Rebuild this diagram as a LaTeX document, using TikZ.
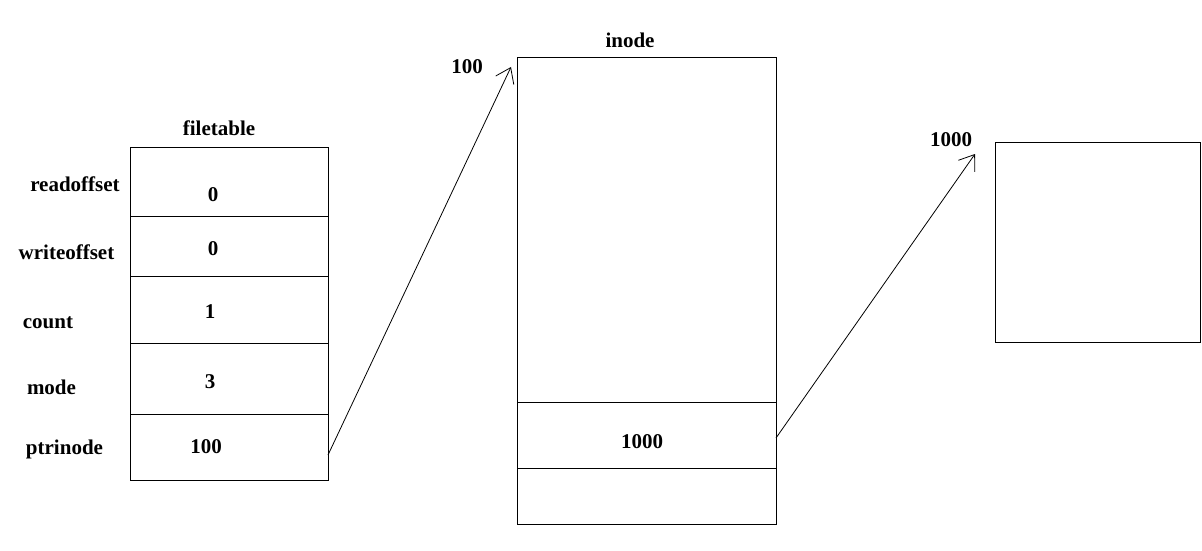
\documentclass[tikz,border=0pt]{standalone}
\usepackage{fontspec}
\setmainfont{Liberation Serif}
\usetikzlibrary{arrows.meta}
\begin{document}
\begin{tikzpicture}[x=1pt,y=-1pt,
  cell/.style={draw,line width=1.2pt,rectangle,inner sep=0pt,anchor=north west,minimum width=#1},
  txt/.style={font=\fontsize{21}{25}\selectfont\bfseries,inner sep=0pt},
  ptr/.style={line width=0.8pt,-{Straight Barb[length=14pt,width=20pt,line width=0.8pt]}}]
\useasboundingbox (0,0) rectangle (1202,551);
% filetable
\node[cell=198,minimum height=69] (f1) at (130,147) {};
\node[cell=198,minimum height=60] (f2) at (130,216) {};
\node[cell=198,minimum height=67] (f3) at (130,276) {};
\node[cell=198,minimum height=71] (f4) at (130,343) {};
\node[cell=198,minimum height=66] (f5) at (130,414) {};
\node[txt] (ft) at (219,128) {filetable};
\node[txt] (l1) at (75,184) {readoffset};
\node[txt] (l2) at (66.5,252) {writeoffset};
\node[txt] (l3) at (48,323) {count};
\node[txt] (l4) at (51.5,387) {mode};
\node[txt] (l5) at (64.5,449) {ptrinode};
\node[txt] (v1) at (213,195) {0};
\node[txt] (v2) at (213,249) {0};
\node[txt] (v3) at (210,312) {1};
\node[txt] (v4) at (210,382) {3};
\node[txt] (v5) at (206,447) {100};
% inode
\node[cell=259,minimum height=345] (i1) at (517,57) {};
\node[cell=259,minimum height=66] (i2) at (517,402) {};
\node[cell=259,minimum height=56] (i3) at (517,468) {};
\node[txt] (it) at (630,40) {inode};
\node[txt] (i100) at (467,67) {100};
\node[txt] (iv) at (642,442) {1000};
% block
\node[cell=205,minimum height=200] (b) at (995,142) {};
\node[txt] (b1000) at (951,140) {1000};
% connectors
\coordinate (s1) at (328,455);
\coordinate (t1) at (511,67);
\coordinate (s2) at (776,438);
\coordinate (t2) at (975,154);
\draw[ptr] (s1) -- (t1);
\draw[ptr] (s2) -- (t2);
\end{tikzpicture}
\end{document}
